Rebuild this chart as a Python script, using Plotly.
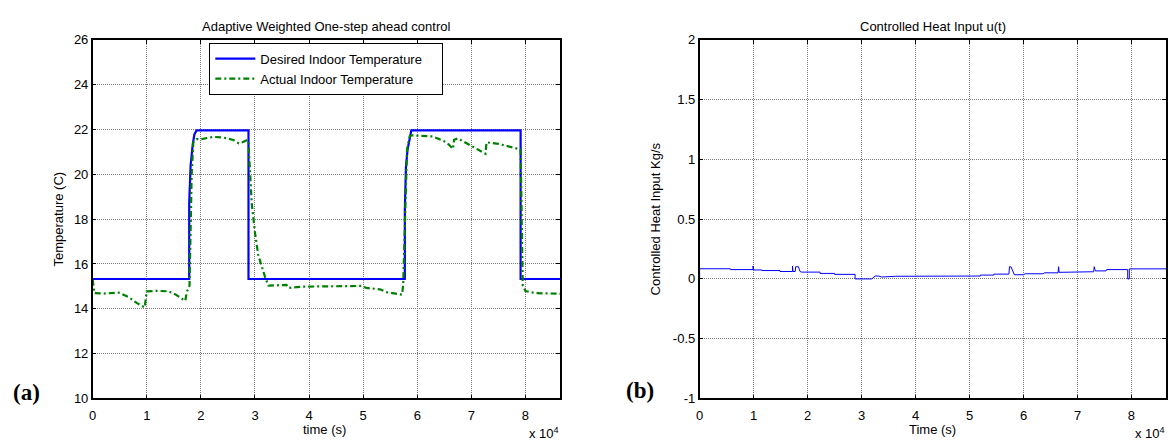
import plotly.graph_objects as go

# ---------------- data ----------------
t_des = [0, 17840, 17840, 18100, 18500, 18800, 19200, 28800, 28800,
         57700, 57700, 57900, 58200, 58600, 58900, 79100, 79100, 86400]
T_des = [15.33, 15.33, 18.7, 20.4, 21.35, 21.78, 21.96, 21.96, 15.33,
         15.33, 18.4, 20.3, 21.1, 21.6, 21.96, 21.96, 15.33, 15.33]

t_act = [0, 300, 2000, 4800, 6600, 8200, 9600, 10000, 12000, 14000, 15300,
         17100, 17400, 17900, 18300, 18600, 19200, 20000, 22300, 24200, 26000,
         27000, 27900, 28600, 28800, 29000, 29400, 30000, 30600, 31900, 32200,
         32500, 35800, 36200, 39000, 42600, 46300, 49700, 50600, 53100, 54300,
         55800, 57200, 57400, 57800, 58100, 58600, 58900, 62900, 65400, 66600,
         66800, 67500, 72600, 72800, 75000, 79100, 79300, 79500, 80000, 81900,
         86400]
T_act = [15.3, 14.7, 14.68, 14.72, 14.53, 14.25, 14.06, 14.78, 14.8, 14.78, 14.64,
         14.35, 14.75, 15.03, 20.0, 21.43, 21.57, 21.57, 21.67, 21.64, 21.53,
         21.38, 21.45, 21.54, 21.4, 20.3, 18.7, 17.4, 16.4, 15.39, 15.17,
         15.03, 15.07, 14.93, 14.99, 15.0, 15.03, 15.02, 14.93, 14.87, 14.74,
         14.7, 14.63, 15.1, 19.1, 21.1, 21.7, 21.74, 21.69, 21.43, 21.14,
         21.54, 21.6, 20.92, 21.43, 21.36, 21.11, 18.0, 15.04, 14.79, 14.7,
         14.67]

t_u = [0, 0, 5700, 5700, 9900, 9900, 10000, 11500, 11500, 14900, 14900, 17200,
       17200, 17300, 17700, 17800, 18300, 18600, 18900, 22300, 22300, 25000,
       25000, 28800, 28800, 31900, 32500, 33200, 33700, 35800, 36300, 52000,
       52000, 54500, 54500, 57300, 57400, 57700, 58300, 60000, 60300, 63600,
       63900, 66400, 66500, 66600, 70600, 70700, 73000, 73100, 73300, 75300,
       75400, 79300, 79300, 79600, 79600, 86400]
u_val = [0, 0.085, 0.085, 0.078, 0.078, 0.108, 0.075, 0.075, 0.070, 0.070, 0.062, 0.062,
         0.108, 0.062, 0.062, 0.102, 0.102, 0.062, 0.057, 0.057, 0.046, 0.046,
         0.038, 0.038, 0.0, 0.0, 0.024, 0.024, 0.016, 0.016, 0.022, 0.024,
         0.032, 0.032, 0.040, 0.040, 0.102, 0.10, 0.035, 0.035, 0.043, 0.043,
         0.051, 0.051, 0.102, 0.055, 0.055, 0.060, 0.060, 0.102, 0.067, 0.067,
         0.078, 0.078, 0.0, 0.0, 0.084, 0.084]

x_ticks = [0, 10000, 20000, 30000, 40000, 50000, 60000, 70000, 80000]
x_ticktext = ["0", "1", "2", "3", "4", "5", "6", "7", "8"]
yL_ticks = [10, 12, 14, 16, 18, 20, 22, 24, 26]
yR_ticks = [-1, -0.5, 0, 0.5, 1, 1.5, 2]
yR_ticktext = ["-1", "-0.5", "0", "0.5", "1", "1.5", "2"]

# ---------------- figure ----------------
W, H = 1173, 448
FONT = "Liberation Sans, Arial, sans-serif"
FS = 13
PAD = "\u00a0\u00a0\u00a0\u00a0"

fig = go.Figure()
fig.add_trace(go.Scatter(x=t_des, y=T_des, mode="lines", name="Desired Indoor Temperature" + PAD,
                         line=dict(color="#0000ff", width=2.2), xaxis="x", yaxis="y"))
fig.add_trace(go.Scatter(x=t_act, y=T_act, mode="lines", name="Actual Indoor Temperature" + PAD,
                         line=dict(color="#008000", width=2.2, dash="6px,3px,2px,3px"),
                         xaxis="x", yaxis="y"))
fig.add_trace(go.Scatter(x=t_u, y=u_val, mode="lines", name="u", showlegend=False,
                         line=dict(color="#0000ff", width=1), xaxis="x2", yaxis="y2"))

def px_x(p):
    return p / W

def px_y(p):
    return 1 - p / H

axis_common = dict(showline=True, linecolor="black", linewidth=1.5, mirror="ticks",
                   ticks="inside", ticklen=4, tickcolor="black",
                   showgrid=True, gridcolor="#7a7a7a", griddash="1px,1px", gridwidth=1,
                   zeroline=False, tickfont=dict(family=FONT, size=FS, color="black"))

ydom = [px_y(405), px_y(34)]
fig.update_layout(
    width=W, height=H, margin=dict(l=0, r=0, t=0, b=0),
    paper_bgcolor="white", plot_bgcolor="white",
    font=dict(family=FONT, size=FS, color="black"),
    xaxis=dict(domain=[px_x(89), px_x(558)], range=[0, 86400], tickvals=x_ticks,
               ticktext=x_ticktext, anchor="y", ticklabelstandoff=4, **axis_common),
    yaxis=dict(domain=ydom, range=[10, 26], tickvals=yL_ticks, anchor="x", **axis_common),
    xaxis2=dict(domain=[px_x(698), px_x(1166)], range=[0, 86400], tickvals=x_ticks,
                ticktext=x_ticktext, anchor="y2", ticklabelstandoff=4, **axis_common),
    yaxis2=dict(domain=ydom, range=[-1, 2], tickvals=yR_ticks, ticktext=yR_ticktext,
                anchor="x2", **axis_common),
    legend=dict(x=px_x(206), y=px_y(37), xanchor="left", yanchor="top",
                bgcolor="white", bordercolor="black", borderwidth=1,
                font=dict(family=FONT, size=FS, color="black"),
                tracegroupgap=0, itemwidth=40),
    showlegend=True,
)

ann = []
def add_text(text, x, y, size=FS, angle=0, family=FONT, xanchor="center", yanchor="middle"):
    ann.append(dict(text=text, x=px_x(x), y=px_y(y), xref="paper", yref="paper",
                    showarrow=False, textangle=angle, xanchor=xanchor, yanchor=yanchor,
                    font=dict(family=family, size=size, color="black")))

add_text("Adaptive Weighted One-step ahead control", 323, 20)
add_text("Controlled Heat Input u(t)", 932, 20)
add_text("time (s)", 322, 437)
add_text("Time (s)", 932, 437)
add_text("Temperature (C)", 55, 219, angle=-90)
add_text("Controlled Heat Input Kg/s", 654, 219, angle=-90)
add_text("x 10<sup>4</sup>", 542, 441)
add_text("x 10<sup>4</sup>", 1150, 441)
add_text("<b>(a)</b>", 23, 399, size=23, family="Liberation Serif, Times New Roman, serif")
add_text("<b>(b)</b>", 638, 397, size=23, family="Liberation Serif, Times New Roman, serif")
fig.update_layout(annotations=ann)

fig.write_html("out.html")
